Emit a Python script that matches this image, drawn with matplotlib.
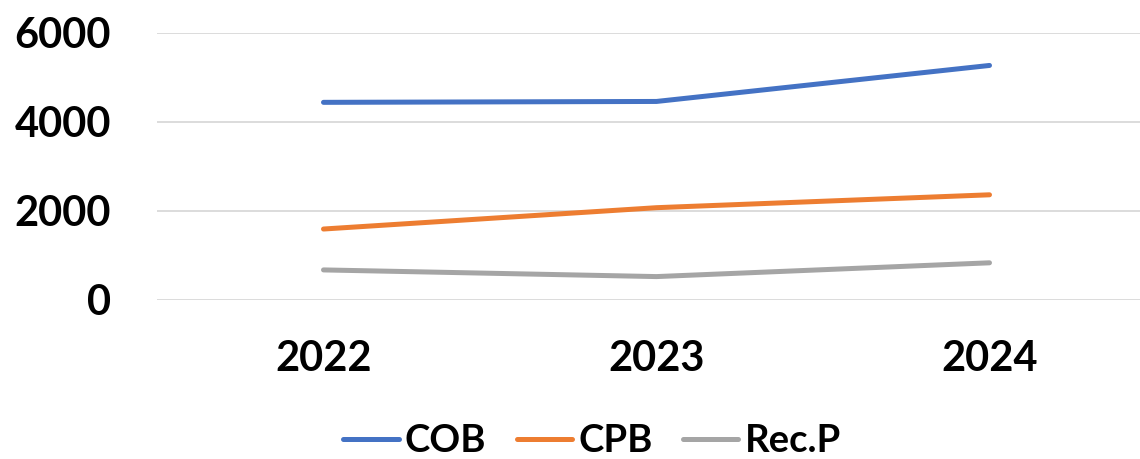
import matplotlib
matplotlib.use("Agg")
import matplotlib.pyplot as plt

years = ["2022", "2023", "2024"]
cob = [4440, 4460, 5270]
cpb = [1590, 2070, 2360]
recp = [670, 520, 830]
series_names = ["COB", "CPB", "Rec.P"]
colors = ["#4472C4", "#ED7D31", "#A5A5A5"]
yticks = [0, 2000, 4000, 6000]

plt.rcParams['font.family'] = ['Lato', 'DejaVu Sans']

W, H = 1140, 459
fig = plt.figure(figsize=(W / 100, H / 100), dpi=100)
ax = fig.add_axes([157 / W, 159.3 / H, 999 / W, 266.7 / H])

x = list(range(len(years)))
for vals, name, c in zip([cob, cpb, recp], series_names, colors):
    ax.plot(x, vals, color=c, lw=3.6, solid_capstyle='round', label=name, zorder=3)

ax.set_xlim(-0.5, 2.5)
ax.set_ylim(0, 6000)
ax.set_yticks(yticks)
ax.set_yticklabels([str(v) for v in yticks], fontsize=30, fontweight='bold')
ax.set_xticks(x)
ax.set_xticklabels(years, fontsize=30, fontweight='bold')
ax.tick_params(axis='y', length=0, pad=33)
ax.tick_params(axis='x', length=0, pad=29)
ax.grid(axis='y', color='#D9D9D9', lw=1.3, zorder=0)
for s in ax.spines.values():
    s.set_visible(False)

leg = fig.legend(loc='center', bbox_to_anchor=(592 / W, 1 - 441 / H), ncol=3,
                 frameon=False, prop={'family': 'Lato', 'weight': 'bold', 'size': 27.5},
                 handlelength=1.45, handletextpad=0.16, columnspacing=0.8)
for line in leg.get_lines():
    line.set_solid_capstyle('round')

fig.savefig("out.png", dpi=100)
